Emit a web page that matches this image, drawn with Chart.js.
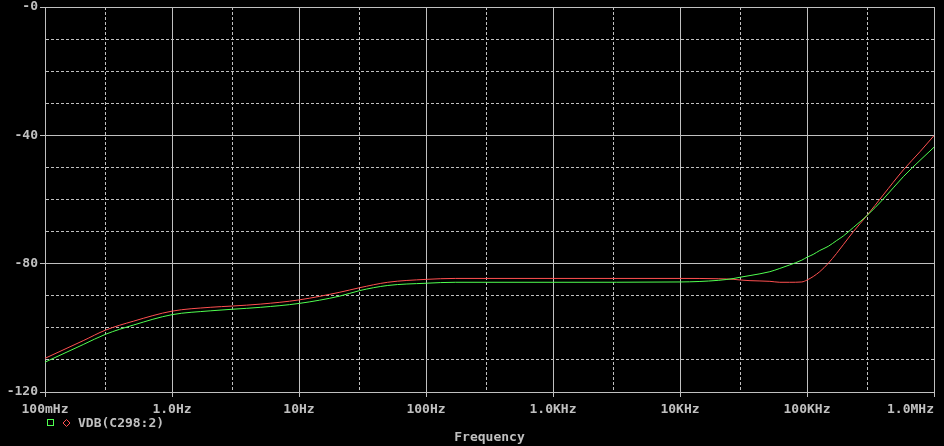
<!DOCTYPE html>
<html>
<head>
<meta charset="utf-8">
<script src="https://cdn.jsdelivr.net/npm/chart.js@4/dist/chart.umd.min.js"></script>
<style>
  html, body { margin: 0; padding: 0; background: #000; }
  canvas { display: block; }
</style>
</head>
<body>
<canvas id="plot" width="944" height="446"></canvas>
<script>
// frequency points (Hz)
const freqHz = [0.1, 0.2, 0.3, 0.5, 1, 2, 3, 5, 10, 21, 30, 50, 100, 170, 1000, 10000, 20000,
    26600, 30000, 35600, 51000, 61000, 73000, 91000, 100000, 112000, 126000, 147000, 171000,
    193000, 232000, 295000, 398000, 573000, 776000, 1000000];

// VDB(C298:2), two traces (dB)
const traceRed = [-109.5, -104.0, -100.7, -97.9, -94.8, -93.6, -93.2, -92.6, -91.3, -88.9, -87.5,
    -85.8, -84.9, -84.6, -84.6, -84.6, -84.7,
    -84.9, -85.1, -85.3, -85.5, -85.8, -85.8, -85.7, -85.1, -84.0, -82.5, -79.9, -76.8,
    -74.1, -70.0, -65.1, -58.6, -50.8, -45.1, -40.1];
const traceGreen = [-110.7, -105.2, -102.0, -99.1, -95.9, -94.7, -94.2, -93.6, -92.4, -90.1, -88.4,
    -86.8, -86.1, -85.8, -85.8, -85.7, -85.2,
    -84.6, -84.2, -83.7, -82.5, -81.5, -80.4, -78.9, -78.0, -77.1, -75.9, -74.6, -72.8,
    -71.4, -68.7, -65.1, -59.9, -52.9, -47.8, -43.7];

const xTickValues = [0.1, 0.3, 1, 3, 10, 30, 100, 300, 1000, 3000, 10000, 30000, 100000, 300000, 1000000];
const xTickText = ["100mHz", "", "1.0Hz", "", "10Hz", "", "100Hz", "", "1.0KHz", "", "10KHz", "", "100KHz", "", "1.0MHz      "];

const yTickValues = [-120, -110, -100, -90, -80, -70, -60, -50, -40, -30, -20, -10, 0];
const yTickText = ["-120", "", "", "", "-80", "", "", "", "-40", "", "", "", "-0"];

const legendLabel = "VDB(C298:2)";

const GRAY = "#c0c0c0";
const RED = "#ff5050";
const GREEN = "#50ff50";
const FONT = { family: "'DejaVu Sans Mono', monospace", size: 13, weight: "bold" };

Chart.defaults.font.family = FONT.family;

const points = (ys) => freqHz.map((f, i) => ({ x: f, y: ys[i] }));

// little probe legend under the axis: green box, red diamond, one label
const probeLegend = {
    id: "probeLegend",
    afterDraw(chart) {
        const c = chart.ctx;
        const x0 = chart.chartArea.left;
        const y = chart.chartArea.bottom + 31;
        c.save();
        c.lineWidth = 1;
        c.strokeStyle = GREEN;
        c.strokeRect(x0 + 2.5, y - 3.5, 6, 6);
        c.strokeStyle = RED;
        c.beginPath();
        c.moveTo(x0 + 21.5, y - 3.5);
        c.lineTo(x0 + 25, y);
        c.lineTo(x0 + 21.5, y + 3.5);
        c.lineTo(x0 + 18, y);
        c.closePath();
        c.stroke();
        c.fillStyle = GRAY;
        c.font = "bold 13px 'DejaVu Sans Mono', monospace";
        c.textBaseline = "middle";
        c.fillText(legendLabel, x0 + 33, y + 0.5);
        c.restore();
    },
};

new Chart(document.getElementById("plot"), {
    type: "line",
    data: {
        datasets: [
            { data: points(traceGreen), borderColor: GREEN, borderWidth: 1, pointRadius: 0, cubicInterpolationMode: "monotone" },
            { data: points(traceRed), borderColor: RED, borderWidth: 1, pointRadius: 0, cubicInterpolationMode: "monotone" },
        ],
    },
    options: {
        responsive: false,
        animation: false,
        devicePixelRatio: 1,
        layout: { padding: { top: 7, right: 10, left: 0, bottom: 0 } },
        plugins: { legend: { display: false }, tooltip: { enabled: false } },
        scales: {
            x: {
                type: "logarithmic",
                min: 0.1,
                max: 1000000,
                afterBuildTicks: (scale) => {
                    scale.ticks = xTickValues.map((v) => ({ value: v }));
                },
                afterFit: (scale) => {
                    scale.height = 54;
                    scale.paddingLeft = 0;
                    scale.paddingRight = 0;
                },
                ticks: {
                    autoSkip: false,
                    maxRotation: 0,
                    padding: 5,
                    color: GRAY,
                    font: FONT,
                    callback: (v, i) => xTickText[i],
                },
                grid: {
                    color: GRAY,
                    lineWidth: 1,
                    tickLength: 5,
                    tickColor: (ctx) => (xTickText[ctx.index] ? GRAY : "rgba(0,0,0,0)"),
                },
                border: {
                    color: GRAY,
                    dash: (ctx) => (ctx.tick && !xTickText[ctx.index] ? [3, 2] : []),
                },
                title: {
                    display: true,
                    text: "Frequency",
                    color: GRAY,
                    font: FONT,
                    padding: { top: 0, bottom: 1 },
                },
            },
            y: {
                min: -120,
                max: 0,
                afterBuildTicks: (scale) => {
                    scale.ticks = yTickValues.map((v) => ({ value: v }));
                },
                afterFit: (scale) => {
                    scale.width = 45;
                    scale.paddingTop = 0;
                    scale.paddingBottom = 0;
                },
                ticks: {
                    autoSkip: false,
                    padding: 2,
                    color: GRAY,
                    font: FONT,
                    callback: (v, i) => yTickText[i],
                },
                grid: {
                    color: GRAY,
                    lineWidth: 1,
                    tickLength: 5,
                    tickColor: (ctx) => (yTickText[ctx.index] ? GRAY : "rgba(0,0,0,0)"),
                },
                border: {
                    color: GRAY,
                    dash: (ctx) => (ctx.tick && !yTickText[ctx.index] ? [3, 2] : []),
                },
            },
        },
    },
    plugins: [probeLegend],
});
</script>
</body>
</html>
